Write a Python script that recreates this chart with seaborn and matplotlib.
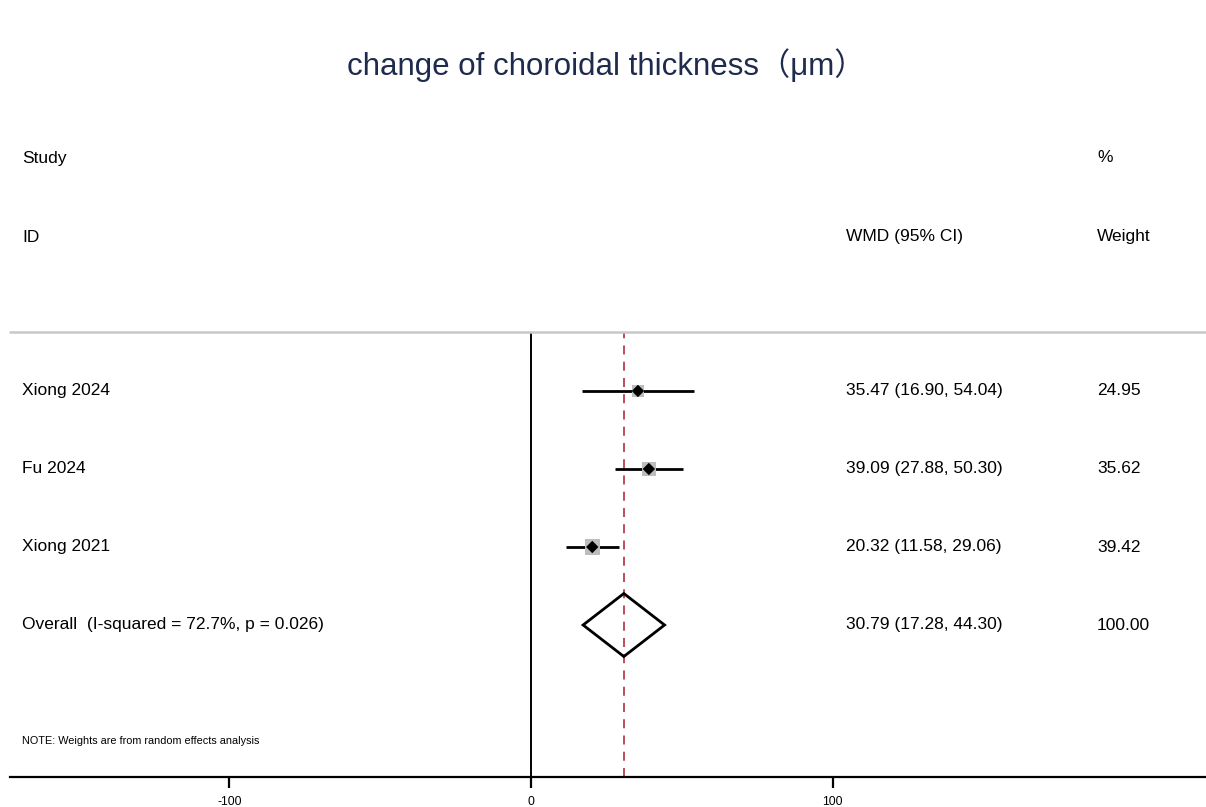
import matplotlib
matplotlib.use("Agg")
import matplotlib.pyplot as plt
import matplotlib.transforms as mtransforms
import seaborn as sns
import pandas as pd
import numpy as np

sns.set_theme(style="white")
plt.rcParams['font.family'] = ['Liberation Sans', 'Noto Sans CJK SC', 'DejaVu Sans']
plt.rcParams['text.color'] = 'black'
plt.rcParams['xtick.color'] = 'black'

# ---- data ----
studies = ["Xiong 2024", "Fu 2024", "Xiong 2021"]
wmd = [35.47, 39.09, 20.32]
ci_low = [16.90, 27.88, 11.58]
ci_high = [54.04, 50.30, 29.06]
weights = [24.95, 35.62, 39.42]
overall_label = "Overall  (I-squared = 72.7%, p = 0.026)"
overall = 30.79
overall_low = 17.28
overall_high = 44.30
overall_weight = 100.00
xticks = [-100, 0, 100]
xtick_labels = ["-100", "0", "100"]

W, H = 1206, 807
fig = plt.figure(figsize=(W / 100, H / 100), dpi=100)
ax_left, ax_right = 10 / W, 1.0
ax_top_px, ax_bot_px = 332, 777
ax = fig.add_axes([ax_left, 1 - ax_bot_px / H, ax_right - ax_left, (ax_bot_px - ax_top_px) / H])

row_px = 78
first_row_px = 391
ax.set_ylim((ax_bot_px - first_row_px) / row_px, -(first_row_px - ax_top_px) / row_px)
px_per_unit = 301.5
ax.set_xlim((10 - 531) / px_per_unit * 100, (1206 - 531) / px_per_unit * 100)

rows = list(range(len(studies)))
df = pd.DataFrame({"row": rows, "wmd": wmd, "weight": weights})

# zero line and overall line
ax.axvline(0, color="black", lw=1.4, zorder=1)
ax.axvline(overall, color="#b5404c", lw=1.3, ls=(0, (5, 4)), zorder=1)

# CI lines
ax.hlines(rows, ci_low, ci_high, color="black", lw=2, zorder=2)

# weight boxes
sns.scatterplot(data=df, x="wmd", y="row", size="weight", sizes=(74, 118),
                size_norm=(min(weights), max(weights)), marker="s",
                color="#bdbdbd", edgecolor="none", legend=False, ax=ax, zorder=3)
# point estimates
sns.scatterplot(data=df, x="wmd", y="row", marker="D", s=40, color="black",
                edgecolor="none", legend=False, ax=ax, zorder=4)

# overall diamond
yo = len(studies)
hh = 31.5 / row_px
ax.fill([overall_low, overall, overall_high, overall, overall_low],
        [yo, yo - hh, yo, yo + hh, yo], facecolor="none", edgecolor="black", lw=2, zorder=3)

# text columns
blend = mtransforms.blended_transform_factory(fig.transFigure, ax.transData)
fs = 12.5
x_name, x_wmd, x_w = 22 / W, 846 / W, 1097 / W
for i, s in enumerate(studies):
    ax.text(x_name, i, s, transform=blend, fontsize=fs, va="center", ha="left")
    ax.text(x_wmd, i, f"{wmd[i]:.2f} ({ci_low[i]:.2f}, {ci_high[i]:.2f})", transform=blend,
            fontsize=fs, va="center", ha="left")
    ax.text(x_w, i, f"{weights[i]:.2f}", transform=blend, fontsize=fs, va="center", ha="left")
ax.text(x_name, yo, overall_label, transform=blend, fontsize=fs, va="center", ha="left")
ax.text(x_wmd, yo, f"{overall:.2f} ({overall_low:.2f}, {overall_high:.2f})", transform=blend,
        fontsize=fs, va="center", ha="left")
ax.text(x_w, yo, f"{overall_weight:.2f}", transform=blend, fontsize=fs, va="center", ha="left")
ax.text(x_name, (741 - first_row_px) / row_px, "NOTE: Weights are from random effects analysis",
        transform=blend, fontsize=7.8, va="center", ha="left")

# headers
def fy(px):
    return 1 - px / H
fig.text(x_name, fy(158), "Study", fontsize=fs, va="center", ha="left")
fig.text(x_name, fy(237), "ID", fontsize=fs, va="center", ha="left")
fig.text(x_wmd, fy(237), "WMD (95% CI)", fontsize=fs, va="center", ha="left")
fig.text(x_w, fy(158), "%", fontsize=fs, va="center", ha="left")
fig.text(x_w, fy(237), "Weight", fontsize=fs, va="center", ha="left")
fig.text(606 / W, fy(65), "change of choroidal thickness（μm）", fontsize=22.5,
         color="#1f2b4d", va="center", ha="center")

# top gray rule
ax.plot([0, 1], [1, 1], transform=ax.transAxes, color="#c8c8c8", lw=1.8, clip_on=False)

# axes styling
for sp in ["top", "right", "left"]:
    ax.spines[sp].set_visible(False)
ax.spines["bottom"].set_color("black")
ax.spines["bottom"].set_linewidth(1.6)
ax.set_yticks([])
ax.set_xticks(xticks)
ax.set_xticklabels(xtick_labels, fontsize=8.8, color="black")
ax.tick_params(axis="x", direction="out", length=8, width=1.6, color="black", pad=6, bottom=True)
ax.set_xlabel("")
ax.set_ylabel("")
ax.grid(False)

fig.savefig("out.png", dpi=100, facecolor="white")
